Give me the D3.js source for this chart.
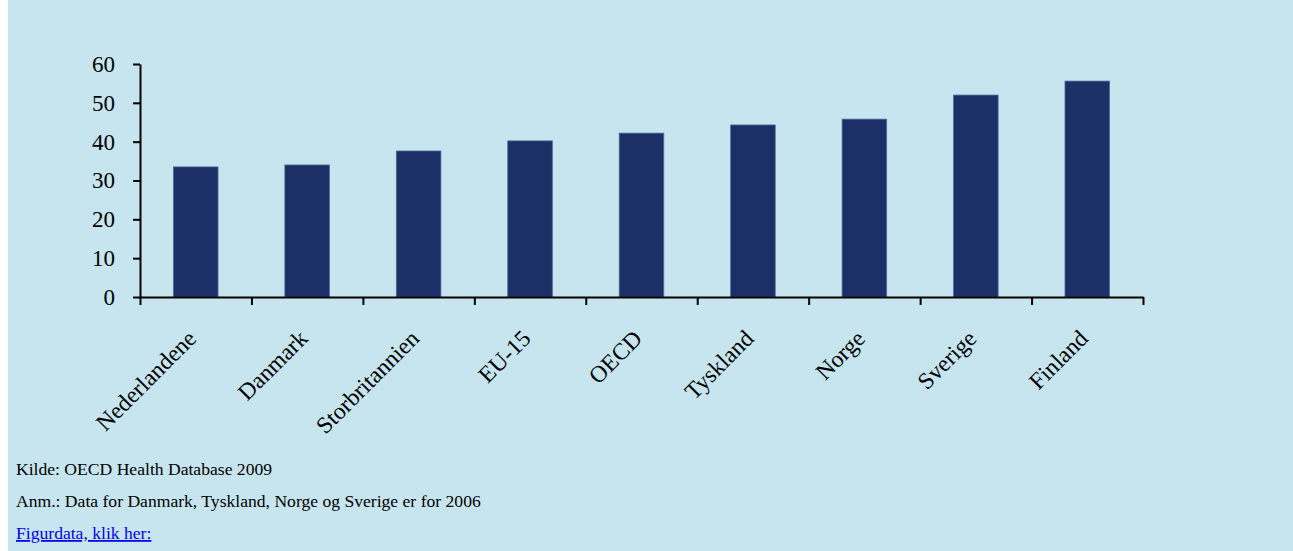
<!DOCTYPE html>
<html>

<head>
    <meta charset="UTF-8">
    <title>Figur</title>
    <style>
        body { margin: 0; background: white; }
        svg text { font-family: 'Liberation Serif', 'Times New Roman', serif; }
    </style>
</head>

<body>
    <svg></svg>
    <script src="https://d3js.org/d3.v7.min.js"></script>
    <script>
        // chart data
        const categories = ["Nederlandene", "Danmark", "Storbritannien", "EU-15", "OECD", "Tyskland", "Norge", "Sverige", "Finland"];
        const values = [33.5, 34, 37.6, 40.2, 42.2, 44.3, 45.8, 52, 55.6];
        const yTicks = [0, 10, 20, 30, 40, 50, 60];
        const notes = ["Kilde: OECD Health Database 2009", "Anm.: Data for Danmark, Tyskland, Norge og Sverige er for 2006"];
        const linkText = "Figurdata, klik her:";

        let width = 1293,
            height = 551;

        let svg = d3.select("svg")
            .attr("width", width)
            .attr("height", height);

        // light blue panel, white strip on the left
        svg.append("rect")
            .attr("x", 8).attr("y", 0)
            .attr("width", width - 8).attr("height", height)
            .attr("fill", "#c7e5ee");

        const x = d3.scaleBand()
            .domain(categories)
            .range([140, 1143])
            .padding(0);

        const y = d3.scaleLinear()
            .domain([0, 60])
            .range([297, 64]);

        // bars
        const barW = x.bandwidth() * 0.4;
        svg.append("g")
            .selectAll("rect")
            .data(values)
            .enter().append("rect")
            .attr("x", (d, i) => x(categories[i]) + (x.bandwidth() - barW) / 2)
            .attr("y", d => y(d))
            .attr("width", barW)
            .attr("height", d => y(0) - y(d))
            .attr("fill", "#1c2f66")
            .attr("stroke", "#4d6a98")
            .attr("stroke-width", 0.8);

        // y axis
        const yAxis = svg.append("g")
            .attr("transform", "translate(140,0)")
            .call(d3.axisLeft(y).tickValues(yTicks).tickSize(7).tickSizeOuter(0).tickPadding(18));
        yAxis.select(".domain").attr("stroke-width", 2);
        yAxis.selectAll(".tick line").attr("stroke-width", 2);
        yAxis.selectAll(".tick text")
            .attr("font-size", 23)
            .attr("fill", "#000");

        // x axis, ticks on the category boundaries
        const xEdge = d3.scaleLinear()
            .domain([0, categories.length])
            .range(x.range());
        const xAxis = svg.append("g")
            .attr("transform", "translate(0," + y(0) + ")")
            .call(d3.axisBottom(xEdge).tickValues(d3.range(categories.length + 1)).tickSize(8).tickSizeOuter(0).tickFormat(""));
        xAxis.select(".domain").attr("stroke-width", 2);
        xAxis.selectAll(".tick line").attr("stroke-width", 2);

        // rotated category labels
        svg.append("g")
            .selectAll("text")
            .data(categories)
            .enter().append("text")
            .attr("transform", d => "translate(" + (x(d) + x.bandwidth() / 2 + 2) + ",340) rotate(-45)")
            .attr("text-anchor", "end")
            .attr("font-size", 23.5)
            .attr("fill", "#000")
            .text(d => d);

        // notes below
        svg.append("g")
            .selectAll("text")
            .data(notes)
            .enter().append("text")
            .attr("x", 16)
            .attr("y", (d, i) => 475 + i * 32)
            .attr("font-size", 17.6)
            .attr("fill", "#000")
            .text(d => d);

        svg.append("text")
            .attr("x", 16)
            .attr("y", 539)
            .attr("font-size", 17.6)
            .attr("fill", "#0000ee")
            .style("text-decoration", "underline")
            .text(linkText);
    </script>
</body>

</html>
